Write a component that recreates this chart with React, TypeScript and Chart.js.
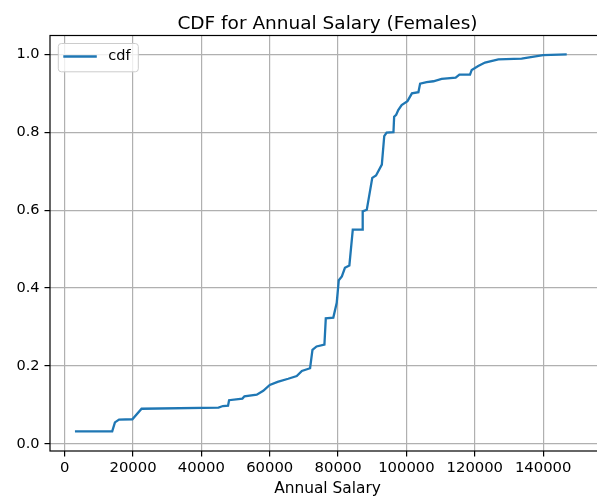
import React, { useEffect, useRef } from "react";
import { Chart, registerables } from "chart.js";

Chart.register(...registerables);

const salary: number[] = [
  3000, 13900, 14700, 15900, 19800, 22500, 45000, 46300, 47800, 48100, 52000,
  52600, 56200, 58100, 60000, 62300, 65400, 67900, 69400, 71800, 72500, 73700,
  76000, 76400, 78600, 79600, 80200, 81100, 82000, 83300, 84300, 87100, 87200,
  88400, 90000, 91100, 92800, 93500, 94200, 96200, 96400, 97000, 97600, 98600,
  100300, 101600, 103500, 104000, 105900, 107900, 110300, 114400, 115500,
  118600, 119100, 121000, 123000, 126900, 133700, 140000, 146900,
];
const cdf: number[] = [
  0.032, 0.032, 0.055, 0.062, 0.063, 0.09, 0.093, 0.097, 0.098, 0.112, 0.116,
  0.122, 0.126, 0.136, 0.151, 0.159, 0.167, 0.174, 0.187, 0.194, 0.241, 0.25,
  0.255, 0.322, 0.324, 0.362, 0.42, 0.43, 0.452, 0.458, 0.55, 0.55, 0.597,
  0.601, 0.683, 0.689, 0.717, 0.79, 0.799, 0.8, 0.84, 0.845, 0.857, 0.87,
  0.88, 0.9, 0.903, 0.925, 0.929, 0.931, 0.937, 0.94, 0.948, 0.948, 0.96,
  0.97, 0.979, 0.987, 0.989, 0.998, 1.0,
];
const xTicks: number[] = [0, 20000, 40000, 60000, 80000, 100000, 120000, 140000];
const yTicks: number[] = [0.0, 0.2, 0.4, 0.6, 0.8, 1.0];
const seriesName = "cdf";
const titleText = "CDF for Annual Salary (Females)";
const xLabel = "Annual Salary";

const FONT = "'DejaVu Sans', sans-serif";
const LINE_COLOR = "#1f77b4";

const framePlugin = {
  id: "frameAndLegend",
  afterDraw(chart: any) {
    const { ctx, chartArea } = chart;
    const { left, right, top, bottom } = chartArea;
    ctx.save();
    ctx.strokeStyle = "#000";
    ctx.lineWidth = 1.2;
    ctx.strokeRect(left, top, right - left, bottom - top);
    // legend box
    const bx = left + 8.3, by = top + 8, bw = 80, bh = 28.3, r = 3;
    ctx.beginPath();
    ctx.moveTo(bx + r, by);
    ctx.lineTo(bx + bw - r, by);
    ctx.arcTo(bx + bw, by, bx + bw, by + r, r);
    ctx.lineTo(bx + bw, by + bh - r);
    ctx.arcTo(bx + bw, by + bh, bx + bw - r, by + bh, r);
    ctx.lineTo(bx + r, by + bh);
    ctx.arcTo(bx, by + bh, bx, by + bh - r, r);
    ctx.lineTo(bx, by + r);
    ctx.arcTo(bx, by, bx + r, by, r);
    ctx.closePath();
    ctx.fillStyle = "rgba(255,255,255,0.8)";
    ctx.fill();
    ctx.strokeStyle = "#cccccc";
    ctx.lineWidth = 1;
    ctx.stroke();
    const ly = by + 13;
    ctx.beginPath();
    ctx.moveTo(bx + 5, ly);
    ctx.lineTo(bx + 38.5, ly);
    ctx.strokeStyle = LINE_COLOR;
    ctx.lineWidth = 2.3;
    ctx.stroke();
    ctx.fillStyle = "#000";
    ctx.font = `14.5px ${FONT}`;
    ctx.textBaseline = "middle";
    ctx.textAlign = "left";
    ctx.fillText(seriesName, bx + 50, ly);
    ctx.restore();
  },
};

export default function App() {
  const ref = useRef<HTMLCanvasElement | null>(null);
  useEffect(() => {
    if (!ref.current) return;
    const data = salary.map((x, i) => ({ x, y: cdf[i] }));
    const chart = new Chart(ref.current, {
      type: "scatter",
      data: {
        datasets: [
          {
            label: seriesName,
            data,
            showLine: true,
            borderColor: LINE_COLOR,
            backgroundColor: LINE_COLOR,
            borderWidth: 2.3,
            pointRadius: 0,
            tension: 0,
          },
        ],
      },
      options: {
        responsive: false,
        animation: false,
        layout: { padding: { left: 0, right: 8, top: 0, bottom: 0 } },
        plugins: {
          legend: { display: false },
          tooltip: { enabled: false },
          title: {
            display: true,
            fullSize: false,
            text: titleText,
            color: "#000",
            font: { family: FONT, size: 18.5, weight: "normal" },
            padding: { top: 13, bottom: 0.3 },
          },
        },
        scales: {
          x: {
            type: "linear",
            min: -4300,
            max: 158100,
            afterBuildTicks: (axis: any) => {
              axis.ticks = xTicks.map((v) => ({ value: v }));
            },
            afterFit: (scale: any) => {
              scale.height = 48;
            },
            ticks: {
              color: "#000",
              font: { family: FONT, size: 14.8 },
              padding: 3,
              maxRotation: 0,
              autoSkip: false,
              callback: (v: any) => String(v),
            },
            grid: {
              color: "#b0b0b0",
              lineWidth: 1.2,
              tickColor: "#000",
              tickLength: 5.5,
            },
            border: { display: false },
            title: {
              display: true,
              text: xLabel,
              color: "#000",
              font: { family: FONT, size: 15.4 },
              padding: { top: 2, bottom: 1 },
            },
          },
          y: {
            type: "linear",
            min: -0.0185,
            max: 1.0485,
            afterBuildTicks: (axis: any) => {
              axis.ticks = yTicks.map((v) => ({ value: v }));
            },
            afterFit: (scale: any) => {
              scale.width = 50;
            },
            ticks: {
              color: "#000",
              font: { family: FONT, size: 14.5 },
              padding: 5,
              autoSkip: false,
              callback: (v: any) => Number(v).toFixed(1),
            },
            grid: {
              color: "#b0b0b0",
              lineWidth: 1.2,
              tickColor: "#000",
              tickLength: 5.5,
            },
            border: { display: false },
          },
        },
      },
      plugins: [framePlugin],
    } as any);
    return () => chart.destroy();
  }, []);
  return (
    <div style={{ position: "absolute", left: 0, top: 0, width: 597, height: 499, overflow: "hidden", background: "#fff" }}>
      <canvas ref={ref} width={613} height={499} style={{ display: "block" }} />
    </div>
  );
}
